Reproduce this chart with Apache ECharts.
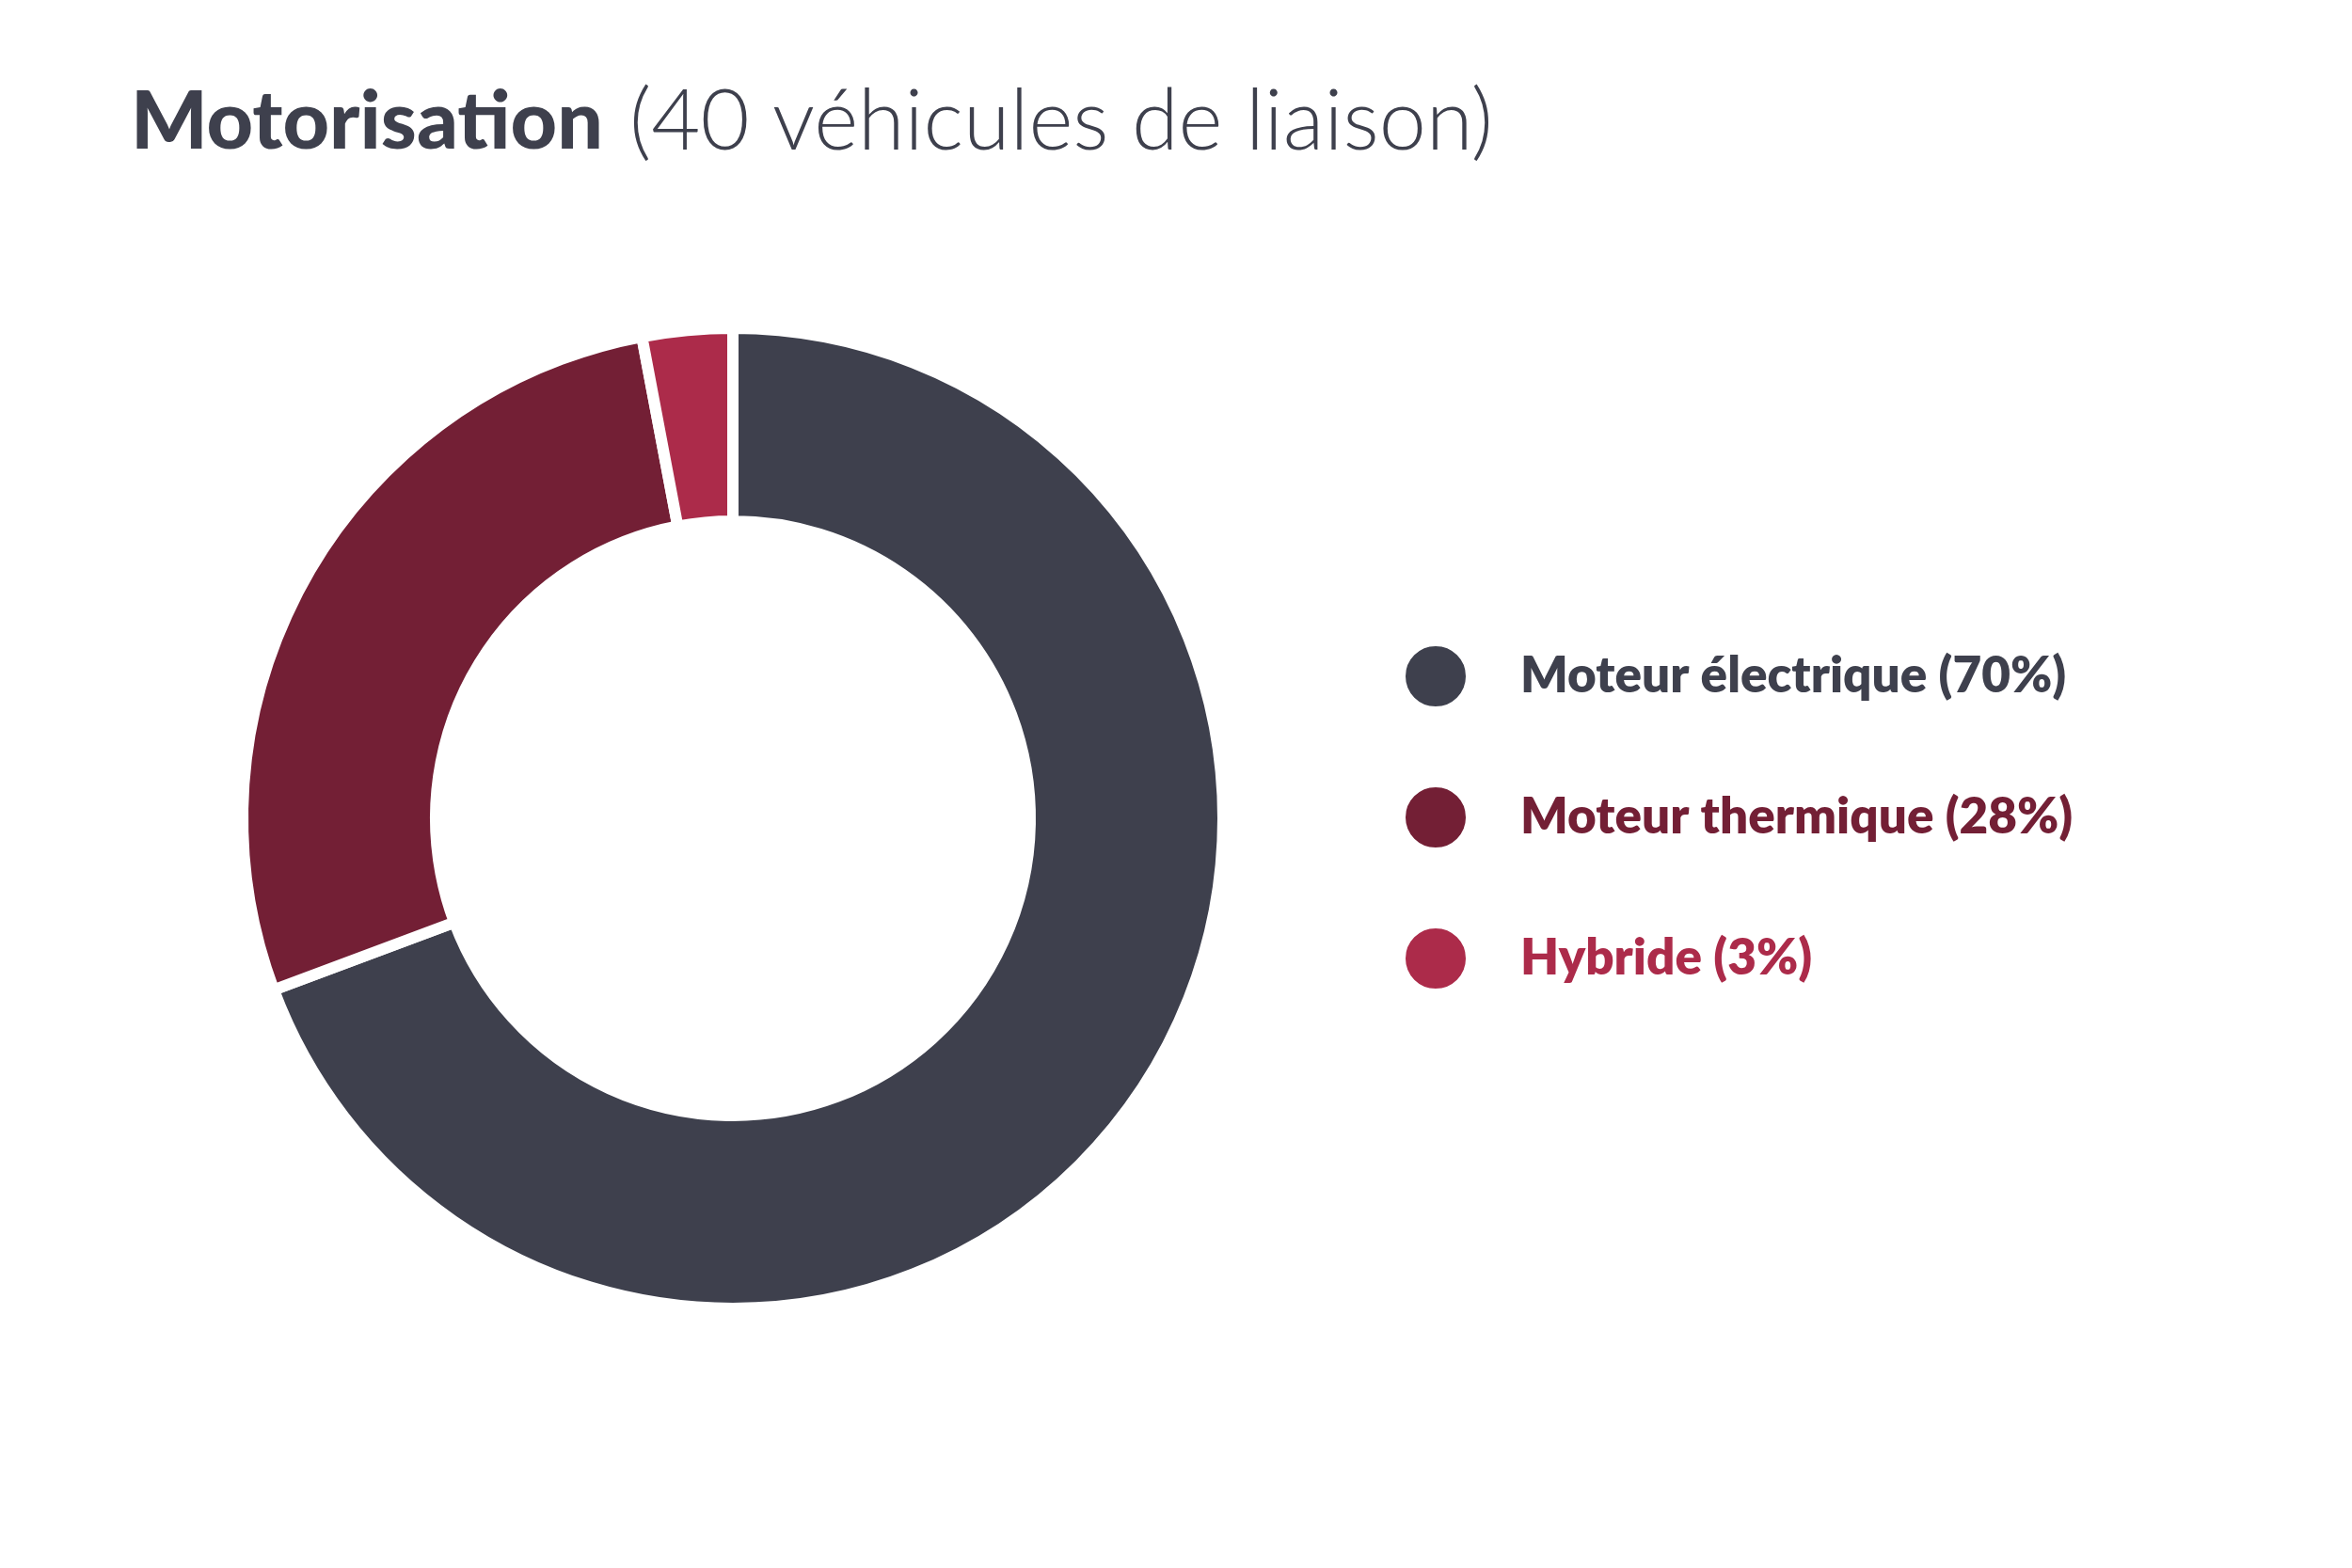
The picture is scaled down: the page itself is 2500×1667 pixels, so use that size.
<!DOCTYPE html>
<html><head><meta charset="utf-8">
<script src="https://cdn.jsdelivr.net/npm/echarts@6/dist/echarts.min.js"></script>
<style>html,body{margin:0;padding:0;background:#fff}#c{width:2500px;height:1667px}</style>
</head><body><div id="c"></div>
<script>
const categories = ['Moteur électrique (70%)', 'Moteur thermique (28%)', 'Hybride (3%)'];
const values = [70, 28, 3];
const colors = ['#3e404d', '#731f35', '#ac2b4a'];
const titleMain = 'Motorisation';
const titleSub = '(40 véhicules de liaison)';

const chart = echarts.init(document.getElementById('c'));
chart.setOption({
  backgroundColor: '#fff',
  animation: false,
  title: {
    text: '{b|' + titleMain + '}{s| }{l|' + titleSub + '}',
    left: 134, top: 80,
    textStyle: {
      rich: {
        b: { fontFamily: 'Lato', fontWeight: 900, fontSize: 86, color: '#3e404d' },
        s: { fontFamily: 'Lato', fontSize: 86, width: 28 },
        l: { fontFamily: 'Lato', fontWeight: 300, fontSize: 90, color: '#3e404d' }
      }
    }
  },
  legend: {
    orient: 'vertical',
    left: 1487, top: 680,
    icon: 'circle',
    itemWidth: 66, itemHeight: 66, itemGap: 82,
    selectedMode: false,
    textStyle: { fontFamily: 'Lato', fontWeight: 800, fontSize: 53, padding: [0, 0, 0, 52] },
    data: categories.map((n, i) => ({ name: n, textStyle: { color: colors[i] } }))
  },
  series: [{
    type: 'pie',
    center: [779, 870],
    radius: [316, 521],
    startAngle: 90,
    clockwise: true,
    label: { show: false },
    labelLine: { show: false },
    itemStyle: { borderColor: '#fff', borderWidth: 12 },
    data: categories.map((n, i) => ({ name: n, value: values[i], itemStyle: { color: colors[i] } }))
  }]
});
</script></body></html>
